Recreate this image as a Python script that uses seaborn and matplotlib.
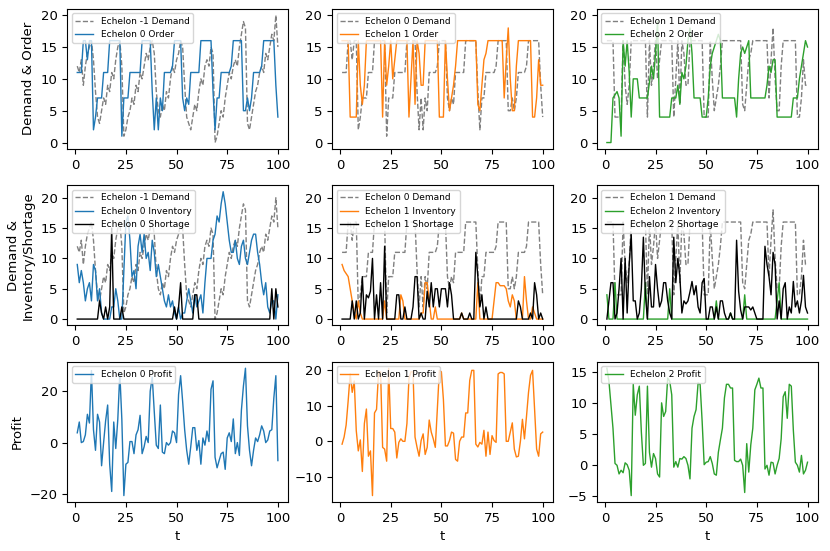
import numpy as np
import matplotlib
matplotlib.use("Agg")
import matplotlib.pyplot as plt
import seaborn as sns

# time steps
t = list(range(1, 101))

# demand seen by echelon 0 (from the customer, echelon -1)
demand_m1 = [12, 11, 13, 9, 12, 14, 15, 16, 13, 8,
             4, 3, 5, 7, 6, 9, 8, 11, 10, 13,
             15, 16, 12, 1, 2, 4, 5, 7, 6, 9,
             8, 11, 10, 12, 14, 13, 15, 16, 14, 8,
             5, 4, 6, 5, 8, 7, 10, 12, 11, 13,
             14, 16, 15, 9, 4, 3, 2, 4, 6, 5,
             8, 10, 9, 12, 13, 12, 15, 14, 0, 1,
             3, 5, 4, 7, 9, 11, 10, 12, 13, 12,
             15, 17, 19, 18, 3, 2, 4, 6, 8, 9,
             11, 12, 11, 14, 13, 15, 17, 16, 20, 15]

# orders placed by each echelon (order of echelon k = demand of echelon k+1)
order0 = [11, 11, 11, 16, 16, 13, 16, 16, 2, 4,
          7, 7, 7, 11, 11, 11, 16, 16, 16, 16,
          16, 16, 1, 7, 7, 7, 11, 11, 11, 11,
          11, 11, 16, 16, 16, 16, 16, 8, 2, 7,
          2, 7, 5, 11, 11, 11, 11, 12, 16, 16,
          16, 16, 7, 5, 7, 6, 11, 11, 11, 11,
          11, 16, 16, 16, 16, 16, 16, 8, 2, 7,
          7, 11, 11, 11, 11, 11, 12, 16, 16, 16,
          16, 16, 5, 5, 7, 5, 7, 11, 11, 11,
          11, 12, 16, 16, 16, 16, 16, 16, 9, 4]

order1 = [16, 16, 16, 16, 4, 4, 4, 4, 16, 9,
          6, 9, 16, 16, 16, 16, 16, 16, 16, 16,
          4, 16, 9, 12, 16, 10, 13, 16, 16, 16,
          16, 16, 16, 4, 10, 16, 6, 16, 14, 9,
          9, 16, 16, 16, 16, 16, 16, 16, 4, 4,
          4, 16, 10, 5, 7, 9, 12, 16, 16, 16,
          16, 16, 16, 16, 16, 16, 16, 6, 5, 9,
          13, 14, 16, 16, 16, 16, 16, 16, 16, 16,
          7, 13, 18, 10, 5, 5, 12, 16, 16, 16,
          16, 16, 16, 16, 4, 4, 7, 13, 9, 9]

order2 = [0, 0, 0, 7, 7.5, 8, 7, 1, 16, 12,
          16, 11, 4, 10, 10, 10, 7, 7, 7, 7,
          7, 9.5, 12, 10, 14, 19, 4, 4, 4, 4,
          4, 4, 7, 7, 7, 9, 6, 11, 10, 12,
          16, 18, 14, 7, 7, 7, 7, 4, 4, 4,
          7, 12, 14, 15, 16, 17, 16, 7, 7, 7,
          7, 7, 7, 7, 4, 10, 14, 15, 14, 15,
          16, 7, 7, 7, 7, 7, 7, 7, 7, 9,
          12, 11, 13, 13, 4, 4, 4, 4, 4, 4,
          4, 4, 7, 7, 7, 10, 12, 14, 16, 15]

# inventory per echelon
inv0 = [9, 6, 8, 6, 3, 5, 6, 3, 9, 8,
        3, 5, 1, 0, 0, 0, 0, 2, 2, 5,
        3, 0, 0, 8, 16, 17, 13, 7, 8, 5,
        12, 14, 11, 14, 10, 11, 8, 13, 11, 7,
        9, 7, 5, 3, 2, 4, 2, 3, 1, 0,
        2, 0, 1, 1, 3, 5, 3, 1, 4, 2,
        3, 4, 1, 6, 10, 10, 10, 13, 14, 17,
        16, 19, 21, 19, 16, 13, 11, 11, 13, 10,
        9, 12, 13, 10, 9, 11, 13, 14, 14, 11,
        9, 6, 4, 6, 2, 1, 3, 3, 0, 4]

inv1 = [9, 8, 7.5, 7, 5, 3, 1, 0, 3, 1,
        0, 0, 0, 0, 0, 0, 0, 0, 0, 0,
        0, 3, 0, 0, 0, 0, 0, 0, 0, 4,
        3, 0, 0, 0, 0, 0, 0, 0, 0, 1,
        1, 6, 6, 3, 0, 0, 2, 0, 0, 0,
        0, 0, 0, 0, 0, 0, 0, 0, 0, 1,
        0, 0, 0, 0, 0, 0, 0, 6, 0, 0,
        0, 0, 0, 0, 0, 3, 6, 6, 5.5, 5.5,
        5.5, 5, 3, 2, 4, 3, 0, 0, 0, 0,
        7, 3, 0, 0, 2, 1, 0, 0, 0, 0]

inv2 = [4, 0, 0, 0, 6, 0, 0, 0, 0, 0,
        0, 0, 0, 0, 0, 0, 0, 0, 0, 6,
        0, 0, 0, 0, 0, 0, 0, 0, 0, 0,
        0, 5, 0, 0, 0, 0, 0, 0, 0, 0,
        0, 0, 0, 0, 0, 0, 0, 0, 0, 0,
        0, 0, 0, 0, 3, 0, 0, 0, 0, 0,
        0, 1, 0, 0, 0, 0, 0, 0, 4, 0,
        0, 0, 0, 0, 0, 0, 0, 0, 0, 0,
        0, 0, 0, 0, 3, 6, 0, 0, 0, 0,
        0, 0, 0, 0, 0, 0, 0, 0, 0, 0]

# shortage per echelon
short0 = [0, 0, 0, 0, 0, 0, 0, 0, 0, 0,
          0, 3, 1, 0, 2, 0, 2, 15, 0, 0,
          0, 0, 2, 0, 0, 0, 0, 0, 0, 0,
          0, 0, 0, 0, 0, 0, 0, 0, 0, 0,
          0, 0, 0, 0, 0, 0, 0, 0, 2, 0,
          2, 6, 0, 0, 0, 0, 0, 0, 4, 4,
          0, 0, 0, 0, 0, 0, 0, 0, 0, 0,
          0, 0, 0, 0, 0, 0, 0, 0, 0, 0,
          0, 0, 0, 0, 0, 0, 0, 0, 0, 0,
          0, 0, 0, 0, 0, 0, 5, 0, 5, 2]

short1 = [0, 0, 0, 0, 0, 3, 0, 3, 0, 1,
          7, 0, 4, 3.5, 4.6, 10, 0, 4, 0, 6,
          0, 12, 0, 0, 0, 0, 0, 4, 4, 0,
          0, 2, 0, 0, 0, 2, 7, 7, 0, 1,
          0, 0, 4.6, 2, 6, 2, 5, 5, 2, 5,
          5, 5, 2, 6, 4, 0, 0, 0, 0, 1,
          0, 0, 0, 1, 0, 0, 11, 7, 2, 4,
          0, 2, 0, 0, 0, 0, 0, 0, 0, 0,
          0, 0, 0, 0, 0, 0, 0, 3, 2, 0,
          0, 0, 0, 1, 0, 6, 4, 0, 1, 0]

short2 = [0, 3, 6, 6, 0, 1, 5, 10, 0, 10,
          1, 9, 14, 3, 3, 0, 1, 5, 13.5, 4,
          0, 7, 2, 2, 9, 5, 2, 3, 6, 6,
          3, 1, 0, 13.5, 6, 10, 7, 1, 3, 2.5,
          3, 4.5, 6.2, 4, 5.5, 2, 1, 6, 6.7, 0,
          0, 2, 2, 0, 2, 0, 3, 3, 1, 0,
          0, 1, 0, 0, 13, 4.6, 1.5, 0, 2, 2,
          2, 1.5, 2, 1, 0, 0, 0, 0, 12, 9,
          7, 4, 11, 9, 0, 3, 0, 5, 6, 0,
          2, 1, 6.2, 2, 3, 1, 3, 7.2, 2, 1]

# profit per echelon
profit0 = [3.8, 8, 0, 0.4, 3, 11, 7.6, 28, 5, -3,
           11, 8, -9, 0, 8.5, 14.6, -8.4, -19, 8, -2.3,
           9, 27, 9, -20.6, -8.4, -7.7, 0.4, 0.4, -4.3, 3,
           5, 10.6, -4.3, -1.6, 2.4, 0, 20, 25.5, 12, -1,
           -2.3, 14.6, -3.7, -4.3, 0, -1, 0, 4.5, 3.8, 0,
           18.7, 26, 16, 5, -3, -8.4, -1.6, 5.8, 5.8, -3,
           0.8, -8.4, 1.8, -1, 4.5, 0.4, 20.7, 24, -5.7, -9.8,
           -7, -4.3, -3.7, -10.4, 1.8, 3.8, 0.4, 9.2, -4.3, 0,
           -5, 12.6, 22, 28.9, 6.5, -3, -9, -3, 1.8, 0.4,
           3, 6.5, 4.5, 0, 1, 4.5, 5, 17.3, 26, -7]

profit1 = [-0.8, 1.2, 4.6, 11.4, 19, 13.8, 17, 3, -2.7, 0.4,
           -8.5, 5, 9.1, -4.2, -2.7, -15.3, 8, 9, 19.6, 19.6,
           -1.7, -2.2, -5.6, 20.6, 3.6, 3.6, 2.6, -4.7, -0.3, 0.7,
           0, 0, 5, 17.7, 19.6, 19.6, 1.2, -1.7, -4.2, 0.2,
           2.1, -3.7, -1.7, 6, 2.6, 0.7, -1.7, 9, 20, 19.6,
           11.8, -1.3, -1.3, 0.2, 2.6, 2.3, -5.1, -5.6, 0, 1.2,
           1.2, 8, 8, 17.2, 20, 20, -0.8, -1.6, -0.3, -0.8,
           3.1, -4.2, 2.6, -3.7, 1.6, 0.2, -0.3, 19, 19.4, 19.4,
           19, 0, 0, 2.6, 5.2, -2.2, -4.4, -4.2, 0, 6.2,
           0.7, 7, 13.8, 18.6, 20, 9, -2.2, -4.2, 2.1, 2.6]

profit2 = [15.6, 13.5, 9.7, 5.9, 0.2, -0.1, -1.5, -0.9, -1.3, 0.3,
           0, -0.9, -5, 13, 8, 11.3, 12.7, 5.3, -0.1, 0.2,
           12.7, 2, -0.4, 1.8, 1, -1.5, -2, 10, 7.8, 8.6,
           14, 13.5, 11.3, -0.4, 0.5, -0.4, 1, 0.9, 1.3, 1,
           -0.1, -2.3, 5.9, 7.8, 8.9, 13.2, 13, 7, 0, 0.4,
           0.5, 1.3, 0.2, -1.5, -1.7, 2, 4, 5.9, 10.8, 13,
           13, 12.4, 12.4, 0.7, 0.5, 0.5, 0.9, -0.1, -4.5, 3.4,
           -1.2, 3.2, 5.9, 12.1, 13, 14, 12.4, 12.4, -0.7, -0.1,
           -1.7, 0.4, 0.3, -1.5, -0.1, 1, 4.2, 11, 11.8, 7.5,
           13, 12.7, 5.6, 0.4, -0.1, -1.2, 1.5, -1.5, -0.9, 0.4]

colors = ["#1f77b4", "#ff7f0e", "#2ca02c"]
demands = [demand_m1, order0, order1]
orders = [order0, order1, order2]
invs = [inv0, inv1, inv2]
shorts = [short0, short1, short2]
profits = [profit0, profit1, profit2]

plt.rcParams["font.size"] = 9.5
fig, axes = plt.subplots(3, 3, figsize=(8.3, 5.51), dpi=100)
fig.subplots_adjust(left=0.081, right=0.985, top=0.984, bottom=0.089,
                    wspace=0.2, hspace=0.26)

# first two rows share the y range inside each row
for r in range(2):
    for i in range(1, 3):
        axes[r, i].sharey(axes[r, 0])

for i in range(3):
    c = colors[i]

    # row 1: demand & order
    ax = axes[0, i]
    sns.lineplot(x=t, y=demands[i], ax=ax, color="grey", linestyle="--",
                 linewidth=1, label=f"Echelon {i - 1} Demand")
    sns.lineplot(x=t, y=orders[i], ax=ax, color=c, linewidth=1,
                 label=f"Echelon {i} Order")
    ax.legend(loc="upper left", fontsize=6.5)

    # row 2: demand & inventory / shortage
    ax = axes[1, i]
    sns.lineplot(x=t, y=demands[i], ax=ax, color="grey", linestyle="--",
                 linewidth=1, label=f"Echelon {i - 1} Demand")
    sns.lineplot(x=t, y=invs[i], ax=ax, color=c, linewidth=1,
                 label=f"Echelon {i} Inventory")
    sns.lineplot(x=t, y=shorts[i], ax=ax, color="black", linewidth=1,
                 label=f"Echelon {i} Shortage")
    ax.legend(loc="upper left", fontsize=6.5)

    # row 3: profit
    ax = axes[2, i]
    sns.lineplot(x=t, y=profits[i], ax=ax, color=c, linewidth=1,
                 label=f"Echelon {i} Profit")
    ax.legend(loc="upper left", fontsize=6.5)
    ax.set_xlabel("t")

for ax in axes[:2].flat:
    ax.set_xlabel("")
for ax in axes.flat:
    ax.set_ylabel("")
    ax.set_xticks([0, 25, 50, 75, 100])
    ax.tick_params(labelleft=True)

axes[0, 0].set_ylabel("Demand & Order")
axes[1, 0].set_ylabel("Demand &\nInventory/Shortage")
axes[2, 0].set_ylabel("Profit")

plt.savefig("out.png", dpi=100)
